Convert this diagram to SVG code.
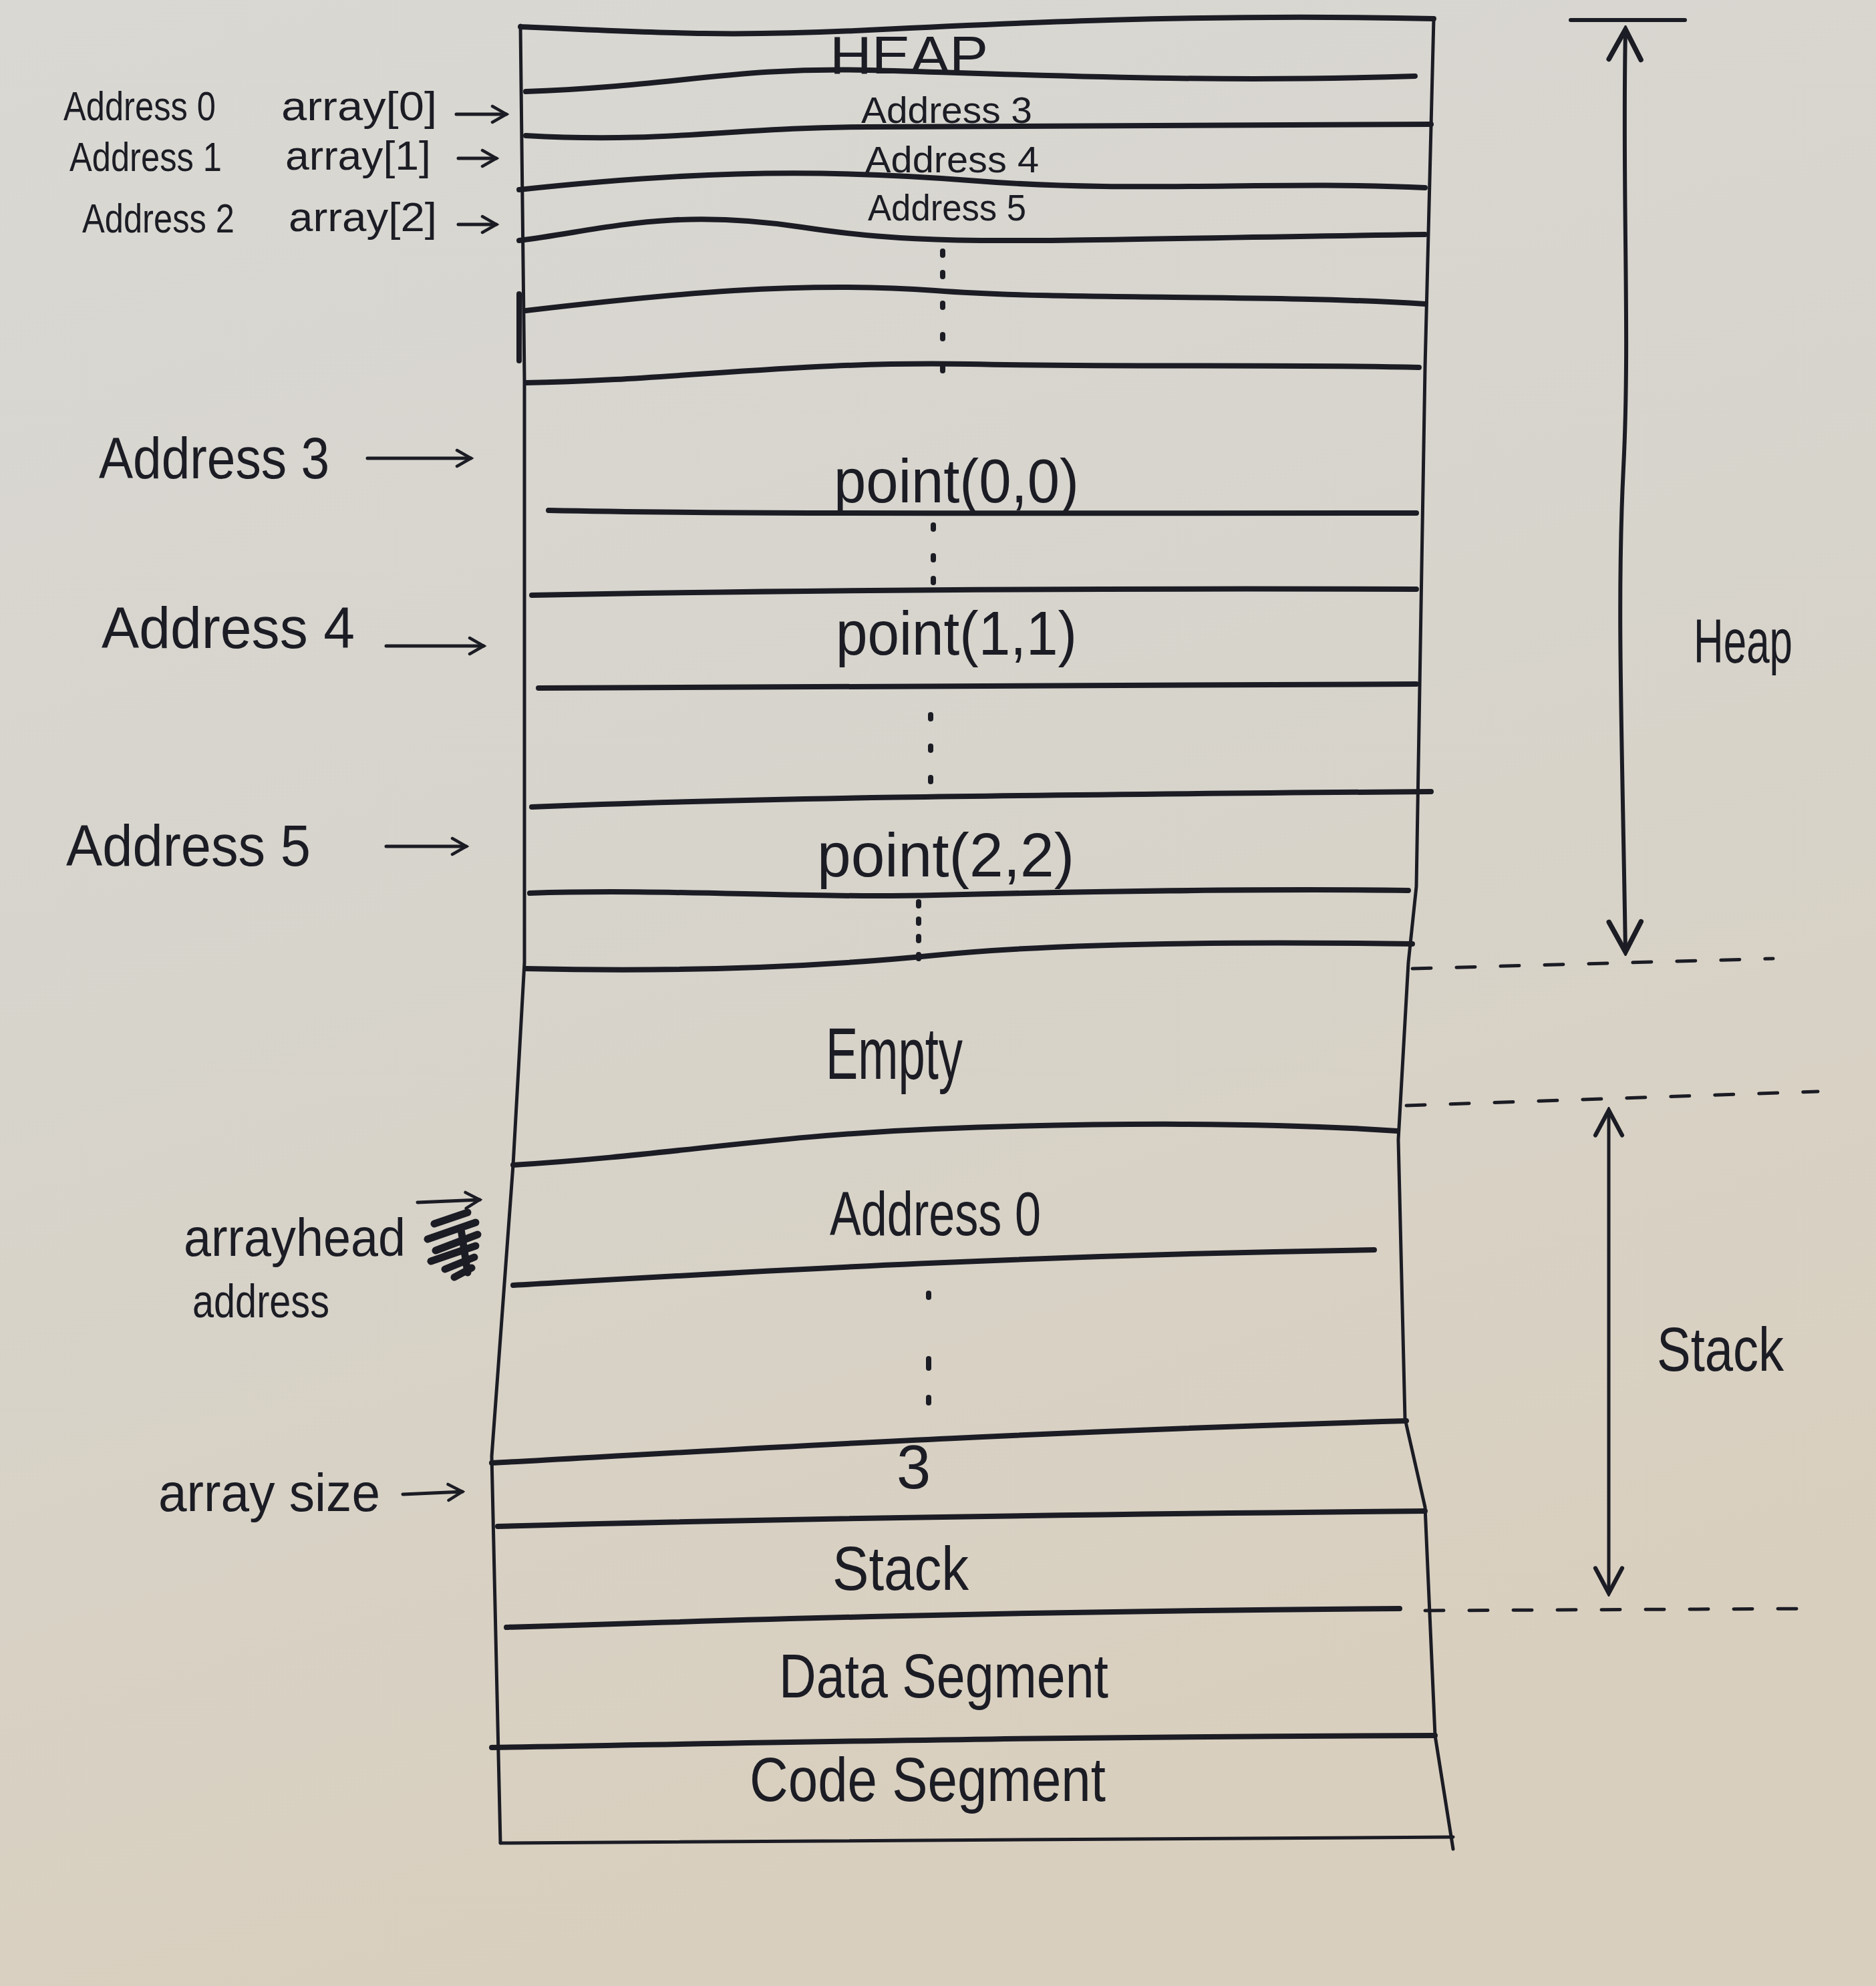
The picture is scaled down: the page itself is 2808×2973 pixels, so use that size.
<svg xmlns="http://www.w3.org/2000/svg" width="2808" height="2973" viewBox="0 0 2808 2973">
<defs>
<linearGradient id="paper" x1="0" y1="0" x2="0.3" y2="1">
<stop offset="0" stop-color="#d9d8d3"/>
<stop offset="0.5" stop-color="#d7d4cc"/>
<stop offset="1" stop-color="#d9cfbe"/>
</linearGradient>
<marker id="arr" viewBox="0 0 20 20" refX="17" refY="10" markerWidth="6" markerHeight="6" orient="auto" markerUnits="strokeWidth">
<path d="M3,2 L17,10 L3,18" fill="none" stroke="#1b1c24" stroke-width="3" stroke-linecap="round"/>
</marker>
<marker id="arrBig" viewBox="0 0 20 20" refX="18" refY="10" markerWidth="10" markerHeight="10" orient="auto-start-reverse" markerUnits="strokeWidth">
<path d="M3,2 L18,10 L3,18" fill="none" stroke="#1b1c24" stroke-width="2.5" stroke-linecap="round"/>
</marker>
<style>
.ink{fill:none;stroke:#1b1c24;stroke-linecap:round;stroke-linejoin:round}
.row{stroke-width:8}
.edge{stroke-width:5}
.dash{stroke-width:5;stroke-dasharray:28 38}
.dot{fill:#1b1c24}
.t{font-family:"Liberation Sans","DejaVu Sans",sans-serif;fill:#1b1c24}
.lab{font-size:62px}
.big{font-size:92px}
.mid{font-size:56px}
</style>
</defs>
<rect id="background" x="0" y="0" width="2808" height="2973" fill="url(#paper)"/>

<g id="memory-box">
<path class="ink row" d="M779,40 C1000,50 1100,55 1300,45 S1800,20 2146,28"/>
<path class="ink edge" d="M779,38 L785,569 L785,1441 L768,1744 L736,2180 L749,2759"/>
<path class="ink edge" d="M2146,28 L2133,550 L2120,1327 L2108,1441 L2093,1706 L2103,2124 L2133,2256 L2148,2598 L2175,2768"/>
<path class="ink edge" d="M749,2759 L2175,2750"/>
<path class="ink row" d="M777,440 L777,540"/>
</g>

<g id="rows">
<path class="ink row" d="M787,137 C1000,130 1100,100 1300,105 S1800,125 2118,114"/>
<path class="ink row" d="M787,203 C1000,215 1100,190 1300,190 S1800,190 2142,186"/>
<path class="ink row" d="M777,284 C1000,260 1200,250 1450,270 S1900,270 2133,281"/>
<path class="ink row" d="M777,360 C900,345 1000,310 1200,340 S1500,360 2133,351"/>
<path class="ink row" d="M787,465 C1000,440 1200,420 1400,435 S1900,440 2133,455"/>
<path class="ink row" d="M787,573 C1000,570 1200,540 1450,545 S1900,545 2124,550"/>
<path class="ink row" d="M821,764 C1100,770 1500,768 2120,768"/>
<path class="ink row" d="M796,891 C1100,885 1500,880 2120,882"/>
<path class="ink row" d="M806,1030 C1100,1030 1500,1025 2120,1024"/>
<path class="ink row" d="M796,1208 C1100,1195 1500,1190 2142,1185"/>
<path class="ink row" d="M793,1337 C1000,1330 1200,1345 1400,1340 S1900,1330 2108,1333"/>
<path class="ink row" d="M787,1450 C1000,1455 1200,1450 1400,1430 S1900,1410 2114,1413"/>
<path class="ink row" d="M768,1744 C1000,1730 1150,1700 1400,1690 S1900,1680 2091,1693"/>
<path class="ink row" d="M768,1924 C1100,1905 1500,1880 2057,1871"/>
<path class="ink row" d="M736,2190 C1100,2170 1500,2145 2105,2127"/>
<path class="ink row" d="M745,2285 C1100,2275 1500,2268 2133,2262"/>
<path class="ink row" d="M758,2436 C1100,2425 1500,2412 2095,2408"/>
<path class="ink row" d="M736,2616 C1100,2610 1500,2600 2148,2598"/>
</g>

<g id="ellipsis-dots">
<rect class="dot" x="1407" y="372" width="8" height="14" rx="4"/>
<rect class="dot" x="1407" y="404" width="8" height="14" rx="4"/>
<rect class="dot" x="1407" y="450" width="8" height="14" rx="4"/>
<rect class="dot" x="1407" y="497" width="8" height="14" rx="4"/>
<rect class="dot" x="1407" y="545" width="8" height="14" rx="4"/>
<rect class="dot" x="1393" y="782" width="8" height="14" rx="4"/>
<rect class="dot" x="1393" y="828" width="8" height="14" rx="4"/>
<rect class="dot" x="1393" y="862" width="8" height="14" rx="4"/>
<rect class="dot" x="1389" y="1066" width="8" height="14" rx="4"/>
<rect class="dot" x="1389" y="1113" width="8" height="14" rx="4"/>
<rect class="dot" x="1389" y="1160" width="8" height="14" rx="4"/>
<rect class="dot" x="1371" y="1346" width="8" height="14" rx="4"/>
<rect class="dot" x="1371" y="1372" width="8" height="14" rx="4"/>
<rect class="dot" x="1371" y="1398" width="8" height="14" rx="4"/>
<rect class="dot" x="1371" y="1425" width="8" height="14" rx="4"/>
<rect class="dot" x="1386" y="1932" width="8" height="14" rx="4"/>
<rect class="dot" x="1386" y="2030" width="8" height="22" rx="4"/>
<rect class="dot" x="1386" y="2088" width="8" height="16" rx="4"/>
</g>

<g id="cell-labels">
<text class="t" x="1242" y="110" font-size="80" textLength="237" lengthAdjust="spacingAndGlyphs">HEAP</text>
<text class="t mid" x="1289" y="184" textLength="256" lengthAdjust="spacingAndGlyphs">Address 3</text>
<text class="t mid" x="1295" y="258" textLength="260" lengthAdjust="spacingAndGlyphs">Address 4</text>
<text class="t mid" x="1299" y="330" textLength="237" lengthAdjust="spacingAndGlyphs">Address 5</text>
<text class="t big" x="1248" y="752" textLength="367" lengthAdjust="spacingAndGlyphs">point(0,0)</text>
<text class="t big" x="1251" y="980" textLength="361" lengthAdjust="spacingAndGlyphs">point(1,1)</text>
<text class="t big" x="1223" y="1312" textLength="385" lengthAdjust="spacingAndGlyphs">point(2,2)</text>
<text class="t" x="1236" y="1615" font-size="110" textLength="205" lengthAdjust="spacingAndGlyphs">Empty</text>
<text class="t big" x="1242" y="1849" textLength="316" lengthAdjust="spacingAndGlyphs">Address 0</text>
<text class="t big" x="1342" y="2228">3</text>
<text class="t big" x="1246" y="2380" textLength="204" lengthAdjust="spacingAndGlyphs">Stack</text>
<text class="t big" x="1166" y="2541" textLength="493" lengthAdjust="spacingAndGlyphs">Data Segment</text>
<text class="t big" x="1122" y="2696" textLength="533" lengthAdjust="spacingAndGlyphs">Code Segment</text>
</g>

<g id="left-labels">
<text class="t lab" x="95" y="180" textLength="228" lengthAdjust="spacingAndGlyphs">Address 0</text>
<text class="t lab" x="421" y="180" textLength="233" lengthAdjust="spacingAndGlyphs">array[0]</text>
<text class="t lab" x="104" y="256" textLength="228" lengthAdjust="spacingAndGlyphs">Address 1</text>
<text class="t lab" x="427" y="254" textLength="218" lengthAdjust="spacingAndGlyphs">array[1]</text>
<text class="t lab" x="123" y="348" textLength="228" lengthAdjust="spacingAndGlyphs">Address 2</text>
<text class="t lab" x="432" y="346" textLength="222" lengthAdjust="spacingAndGlyphs">array[2]</text>
<text class="t" x="148" y="716" font-size="88" textLength="345" lengthAdjust="spacingAndGlyphs">Address 3</text>
<text class="t" x="152" y="970" font-size="88" textLength="379" lengthAdjust="spacingAndGlyphs">Address 4</text>
<text class="t" x="99" y="1296" font-size="88" textLength="366" lengthAdjust="spacingAndGlyphs">Address 5</text>
<text class="t" x="275" y="1880" font-size="80" textLength="332" lengthAdjust="spacingAndGlyphs">arrayhead</text>
<text class="t" x="288" y="1972" font-size="70" textLength="205" lengthAdjust="spacingAndGlyphs">address</text>
<text class="t" x="237" y="2262" font-size="80" textLength="332" lengthAdjust="spacingAndGlyphs">array size</text>
<path class="ink" stroke-width="11" d="M650,1832 L700,1815 M640,1855 L712,1830 M652,1872 L715,1848 M645,1888 L712,1865 M666,1900 L710,1882 M680,1912 L706,1898 M690,1840 L700,1905"/>
</g>

<g id="connectors">
<path class="ink edge" d="M683,171 L758,171" marker-end="url(#arr)"/>
<path class="ink edge" d="M686,237 L743,237" marker-end="url(#arr)"/>
<path class="ink edge" d="M686,336 L743,336" marker-end="url(#arr)"/>
<path class="ink edge" d="M550,686 L705,686" marker-end="url(#arr)"/>
<path class="ink edge" d="M578,967 L724,967" marker-end="url(#arr)"/>
<path class="ink edge" d="M578,1267 L698,1267" marker-end="url(#arr)"/>
<path class="ink edge" d="M625,1800 L718,1796" marker-end="url(#arr)"/>
<path class="ink edge" d="M603,2237 L692,2233" marker-end="url(#arr)"/>
</g>

<g id="region-markers">
<path class="ink" stroke-width="6" d="M2351,30 L2522,30"/>
<path class="ink" stroke-width="6" d="M2433,44 C2428,300 2440,500 2430,700 S2428,1100 2433,1425" marker-start="url(#arrBig)" marker-end="url(#arrBig)"/>
<path class="ink" stroke-width="5" d="M2408,1662 L2408,2385" marker-start="url(#arrBig)" marker-end="url(#arrBig)"/>
<path class="ink dash" d="M2114,1450 L2654,1435"/>
<path class="ink dash" d="M2105,1655 L2721,1634"/>
<path class="ink dash" d="M2133,2411 L2721,2408"/>
<text class="t" x="2535" y="992" font-size="92" textLength="148" lengthAdjust="spacingAndGlyphs">Heap</text>
<text class="t" x="2480" y="2052" font-size="92" textLength="190" lengthAdjust="spacingAndGlyphs">Stack</text>
</g>
</svg>
